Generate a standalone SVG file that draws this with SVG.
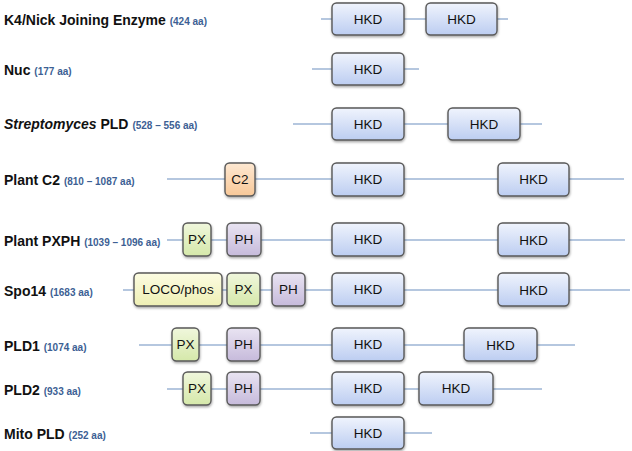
<svg xmlns="http://www.w3.org/2000/svg" width="632" height="451" viewBox="0 0 632 451">
<defs>
<linearGradient id="gHKD" x1="0" y1="0" x2="0" y2="1"><stop offset="0" stop-color="#f0f4fd"/><stop offset="1" stop-color="#bccdf1"/></linearGradient>
<linearGradient id="gC2" x1="0" y1="0" x2="0" y2="1"><stop offset="0" stop-color="#fde8d2"/><stop offset="1" stop-color="#f8c898"/></linearGradient>
<linearGradient id="gPX" x1="0" y1="0" x2="0" y2="1"><stop offset="0" stop-color="#f0f7dc"/><stop offset="1" stop-color="#d5e8aa"/></linearGradient>
<linearGradient id="gPH" x1="0" y1="0" x2="0" y2="1"><stop offset="0" stop-color="#e9e4f2"/><stop offset="1" stop-color="#c6badb"/></linearGradient>
<linearGradient id="gLOCO" x1="0" y1="0" x2="0" y2="1"><stop offset="0" stop-color="#fcfce2"/><stop offset="1" stop-color="#eeefb4"/></linearGradient>
<filter id="sh" x="-20%" y="-20%" width="140%" height="160%"><feDropShadow dx="0.5" dy="1.5" stdDeviation="1" flood-color="#000" flood-opacity="0.35"/></filter>
</defs>
<style>
.bb{stroke:#9cb4d4;stroke-width:1.3;fill:none}
.box{stroke:#585858;stroke-width:1.4;filter:url(#sh)}
.hkd{fill:url(#gHKD)}
.c2{fill:url(#gC2)}
.px{fill:url(#gPX)}
.ph{fill:url(#gPH)}
.loco{fill:url(#gLOCO)}
.bt{font-family:"Liberation Sans",Arial,sans-serif;font-size:13.5px;fill:#111;text-anchor:middle;dominant-baseline:central}
.lb{font-family:"Liberation Sans",Arial,sans-serif;font-size:14px;font-weight:bold;fill:#111}
.aa{font-size:10px;fill:#3d5f94}
</style>
<rect width="632" height="451" fill="#fff"/>
<g id="connectors">
<line class="bb" x1="321" y1="19" x2="508" y2="19"/>
<line class="bb" x1="312" y1="69" x2="419" y2="69"/>
<line class="bb" x1="293" y1="124" x2="542" y2="124"/>
<line class="bb" x1="167" y1="179" x2="624" y2="179"/>
<line class="bb" x1="167" y1="240" x2="625" y2="240"/>
<line class="bb" x1="123" y1="290" x2="630" y2="290"/>
<line class="bb" x1="139" y1="345" x2="575" y2="345"/>
<line class="bb" x1="167" y1="389" x2="542" y2="389"/>
<line class="bb" x1="310" y1="433" x2="432" y2="433"/>
</g>
<g id="labels">
<text class="lb" x="4" y="25">K4/Nick Joining Enzyme <tspan class="aa">(424 aa)</tspan></text>
<text class="lb" x="4" y="75">Nuc <tspan class="aa">(177 aa)</tspan></text>
<text class="lb" x="4" y="129"><tspan font-style="italic">Streptomyces</tspan> PLD <tspan class="aa">(528 – 556 aa)</tspan></text>
<text class="lb" x="4" y="185">Plant C2 <tspan class="aa">(810 – 1087 aa)</tspan></text>
<text class="lb" x="4" y="246">Plant PXPH <tspan class="aa">(1039 – 1096 aa)</tspan></text>
<text class="lb" x="4" y="296">Spo14 <tspan class="aa">(1683 aa)</tspan></text>
<text class="lb" x="4" y="351">PLD1 <tspan class="aa">(1074 aa)</tspan></text>
<text class="lb" x="4" y="395">PLD2 <tspan class="aa">(933 aa)</tspan></text>
<text class="lb" x="4" y="439">Mito PLD <tspan class="aa">(252 aa)</tspan></text>
</g>
<!-- Row 1 -->
<g id="k4-hkd1"><rect class="box hkd" x="332" y="3" width="72" height="32" rx="4.5"/><text class="bt" x="368" y="19">HKD</text></g>
<g id="k4-hkd2"><rect class="box hkd" x="426" y="3" width="71" height="32" rx="4.5"/><text class="bt" x="461.5" y="19">HKD</text></g>
<!-- Row 2 -->
<g id="nuc-hkd1"><rect class="box hkd" x="332" y="53" width="72" height="32" rx="4.5"/><text class="bt" x="368" y="69">HKD</text></g>
<!-- Row 3 -->
<g id="strep-hkd1"><rect class="box hkd" x="332" y="108" width="72" height="32" rx="4.5"/><text class="bt" x="368" y="124">HKD</text></g>
<g id="strep-hkd2"><rect class="box hkd" x="448" y="108" width="72" height="32" rx="4.5"/><text class="bt" x="484" y="124">HKD</text></g>
<!-- Row 4 -->
<g id="c2-c2"><rect class="box c2" x="225" y="163" width="30" height="33" rx="4.5"/><text class="bt" x="240" y="179.5">C2</text></g>
<g id="c2-hkd1"><rect class="box hkd" x="332" y="163" width="72" height="33" rx="4.5"/><text class="bt" x="368" y="179.5">HKD</text></g>
<g id="c2-hkd2"><rect class="box hkd" x="498" y="163" width="71" height="33" rx="4.5"/><text class="bt" x="533.5" y="179.5">HKD</text></g>
<!-- Row 5 -->
<g id="pxph-px"><rect class="box px" x="183" y="223" width="28" height="33" rx="4.5"/><text class="bt" x="197" y="239.5">PX</text></g>
<g id="pxph-ph"><rect class="box ph" x="227" y="223" width="34" height="33" rx="4.5"/><text class="bt" x="244" y="239.5">PH</text></g>
<g id="pxph-hkd1"><rect class="box hkd" x="332" y="223" width="72" height="33" rx="4.5"/><text class="bt" x="368" y="239.5">HKD</text></g>
<g id="pxph-hkd2"><rect class="box hkd" x="498" y="223" width="71" height="33" rx="4.5"/><text class="bt" x="533.5" y="240.5">HKD</text></g>
<!-- Row 6 -->
<g id="spo14-loco"><rect class="box loco" x="134" y="273" width="88" height="33" rx="4.5"/><text class="bt" x="178" y="289.5">LOCO/phos</text></g>
<g id="spo14-px"><rect class="box px" x="227" y="273" width="33" height="33" rx="4.5"/><text class="bt" x="243.5" y="289.5">PX</text></g>
<g id="spo14-ph"><rect class="box ph" x="272" y="273" width="33" height="33" rx="4.5"/><text class="bt" x="288.5" y="289.5">PH</text></g>
<g id="spo14-hkd1"><rect class="box hkd" x="332" y="273" width="72" height="33" rx="4.5"/><text class="bt" x="368" y="289.5">HKD</text></g>
<g id="spo14-hkd2"><rect class="box hkd" x="498" y="273" width="71" height="33" rx="4.5"/><text class="bt" x="533.5" y="290.5">HKD</text></g>
<!-- Row 7 -->
<g id="pld1-px"><rect class="box px" x="172" y="328" width="27" height="33" rx="4.5"/><text class="bt" x="185.5" y="344.5">PX</text></g>
<g id="pld1-ph"><rect class="box ph" x="227" y="328" width="33" height="33" rx="4.5"/><text class="bt" x="243.5" y="344.5">PH</text></g>
<g id="pld1-hkd1"><rect class="box hkd" x="332" y="328" width="72" height="33" rx="4.5"/><text class="bt" x="368" y="344.5">HKD</text></g>
<g id="pld1-hkd2"><rect class="box hkd" x="464" y="328" width="73" height="33" rx="4.5"/><text class="bt" x="500.5" y="345.5">HKD</text></g>
<!-- Row 8 -->
<g id="pld2-px"><rect class="box px" x="183" y="372" width="28" height="33" rx="4.5"/><text class="bt" x="197" y="388.5">PX</text></g>
<g id="pld2-ph"><rect class="box ph" x="227" y="372" width="33" height="33" rx="4.5"/><text class="bt" x="243.5" y="388.5">PH</text></g>
<g id="pld2-hkd1"><rect class="box hkd" x="332" y="372" width="72" height="33" rx="4.5"/><text class="bt" x="368" y="388.5">HKD</text></g>
<g id="pld2-hkd2"><rect class="box hkd" x="419" y="372" width="74" height="33" rx="4.5"/><text class="bt" x="456" y="388.5">HKD</text></g>
<!-- Row 9 -->
<g id="mito-hkd1"><rect class="box hkd" x="332" y="417" width="72" height="32" rx="4.5"/><text class="bt" x="368" y="433">HKD</text></g>
</svg>
